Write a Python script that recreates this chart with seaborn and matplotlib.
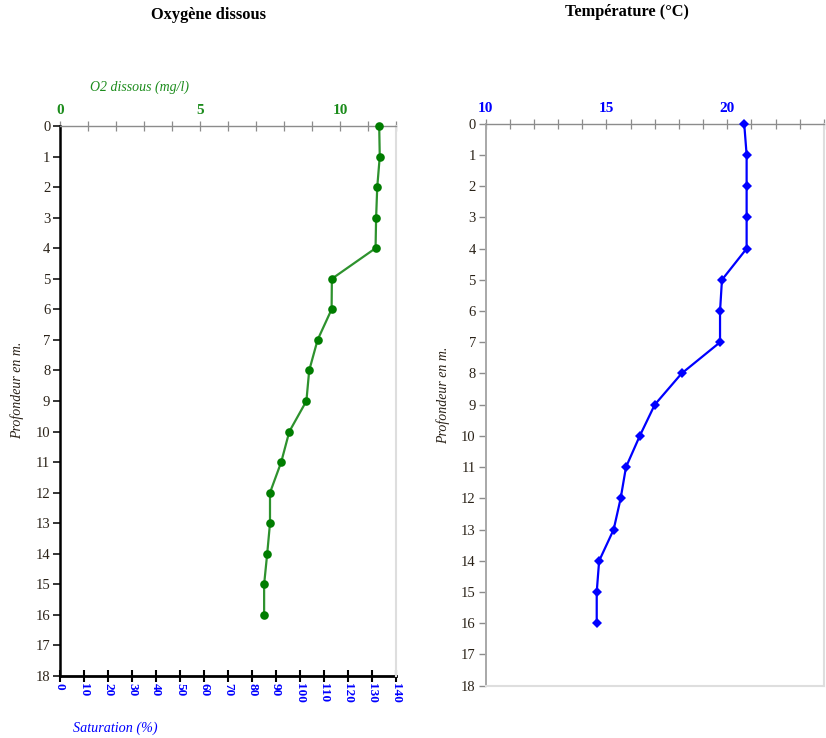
import matplotlib
matplotlib.use("Agg")
import matplotlib.pyplot as plt
import pandas as pd
import seaborn as sns
from matplotlib.ticker import MultipleLocator

# Depth profile (m) and measurements
depth = list(range(17))
o2_mgl = [11.40, 11.42, 11.33, 11.29, 11.27, 9.71, 9.70, 9.20, 8.90, 8.80,
          8.19, 7.90, 7.50, 7.50, 7.40, 7.29, 7.29]
temp_c = [20.70, 20.80, 20.80, 20.80, 20.80, 19.78, 19.70, 19.70, 18.11, 17.00,
          16.38, 15.81, 15.59, 15.30, 14.70, 14.60, 14.60]

depth_ticks = list(range(19))
o2_ticks = [0, 5, 10]
sat_ticks = list(range(0, 141, 10))
temp_ticks = [10, 15, 20]

sns.set_style("white")
plt.rcParams["font.family"] = ["Liberation Serif", "DejaVu Serif"]

W, H = 826, 738
fig = plt.figure(figsize=(W / 100, H / 100), dpi=100)


def box(x0, y0, x1, y1):
    return [x0 / W, 1 - y1 / H, (x1 - x0) / W, (y1 - y0) / H]


ax1 = fig.add_axes(box(60, 126, 396, 676))
ax2 = fig.add_axes(box(485.5, 123.7, 824, 685.7))

GREEN_LINE = "#2e922e"
GREEN_MARK = "#007d00"
GREEN_TXT = "#1c8c1c"
BLUE = "#0000ff"
DARK = "#2a2218"
GRAY = "#8c8c8c"
LIGHT = "#dedede"

# ---- Oxygène dissous ----
df_o2 = pd.DataFrame({"depth": depth, "o2": o2_mgl})
sns.lineplot(data=df_o2, x="o2", y="depth", sort=False, estimator=None,
             color=GREEN_LINE, lw=1.6, marker="o", ms=6.2, clip_on=False,
             markerfacecolor=GREEN_MARK, markeredgewidth=0, ax=ax1, zorder=5)
ax1.set_xlim(0, 12)
ax1.set_ylim(18, 0)
ax1.set_xlabel("")
ax1.set_ylabel("")
ax1.xaxis.set_ticks_position("top")
ax1.set_xticks(o2_ticks, labels=[str(v) for v in o2_ticks], fontweight="bold")
ax1.xaxis.set_minor_locator(MultipleLocator(1))
ax1.tick_params(axis="x", which="both", direction="inout", length=7, width=0.9,
                color=GRAY, labelcolor=GREEN_TXT, labelsize=11, pad=3, top=True, bottom=False)
ax1.set_yticks(depth_ticks)
ax1.tick_params(axis="y", direction="out", length=5, width=1.1, color="black",
                labelcolor=DARK, labelsize=10.5, pad=2, left=True)
ax1.spines["top"].set_color(GRAY)
ax1.spines["top"].set_linewidth(1.0)
ax1.spines["left"].set_color("black")
ax1.spines["left"].set_linewidth(1.8)
ax1.spines["right"].set_color(LIGHT)
ax1.spines["right"].set_linewidth(1.5)
ax1.spines["bottom"].set_visible(False)

sec = ax1.secondary_xaxis("bottom", functions=(lambda m: m * 140 / 12, lambda s: s * 12 / 140))
sec.set_xticks(sat_ticks, labels=[str(v) for v in sat_ticks], fontweight="bold")
sec.tick_params(direction="inout", length=8, width=1.5, color="black",
                labelcolor=BLUE, labelsize=9.5, labelrotation=270, pad=1)
sec.spines["bottom"].set_color("black")
sec.spines["bottom"].set_linewidth(2)

# ---- Température ----
df_t = pd.DataFrame({"depth": depth, "temp": temp_c})
sns.lineplot(data=df_t, x="temp", y="depth", sort=False, estimator=None,
             color=BLUE, lw=1.6, marker="D", ms=5.5, clip_on=False,
             markerfacecolor=BLUE, markeredgewidth=0, ax=ax2, zorder=5)
ax2.set_xlim(10, 24)
ax2.set_ylim(18, 0)
ax2.set_xlabel("")
ax2.set_ylabel("")
ax2.xaxis.set_ticks_position("top")
ax2.set_xticks(temp_ticks, labels=[str(v) for v in temp_ticks], fontweight="bold")
ax2.xaxis.set_minor_locator(MultipleLocator(1))
ax2.tick_params(axis="x", which="both", direction="inout", length=7, width=0.9,
                color=GRAY, labelcolor=BLUE, labelsize=11, pad=3, top=True, bottom=False)
ax2.set_yticks(depth_ticks)
ax2.tick_params(axis="y", direction="out", length=5, width=1.0, color=GRAY,
                labelcolor=DARK, labelsize=10.5, pad=2, left=True)
ax2.spines["top"].set_color(GRAY)
ax2.spines["top"].set_linewidth(1.0)
ax2.spines["left"].set_color("#a8a8a8")
ax2.spines["left"].set_linewidth(1.4)
ax2.spines["right"].set_color(LIGHT)
ax2.spines["right"].set_linewidth(1.5)
ax2.spines["bottom"].set_color(LIGHT)
ax2.spines["bottom"].set_linewidth(1.5)

# ---- Titles and axis captions ----
fig.text(208 / W, 1 - 15 / H, "Oxygène dissous", ha="center", va="center",
         fontsize=11.8, fontweight="bold", color="black")
fig.text(627 / W, 1 - 12 / H, "Température (°C)", ha="center", va="center",
         fontsize=11.8, fontweight="bold", color="black")
fig.text(90 / W, 1 - 87 / H, "O2 dissous (mg/l)", ha="left", va="center",
         fontsize=10, style="italic", color=GREEN_TXT)
fig.text(73 / W, 1 - 728 / H, "Saturation (%)", ha="left", va="center",
         fontsize=10.2, style="italic", color=BLUE)
fig.text(17 / W, 1 - 390 / H, "Profondeur en m.", ha="center", va="center",
         rotation=90, fontsize=10, style="italic", color=DARK)
fig.text(443 / W, 1 - 395 / H, "Profondeur en m.", ha="center", va="center",
         rotation=90, fontsize=10, style="italic", color=DARK)

fig.savefig("out.png", dpi=100)
